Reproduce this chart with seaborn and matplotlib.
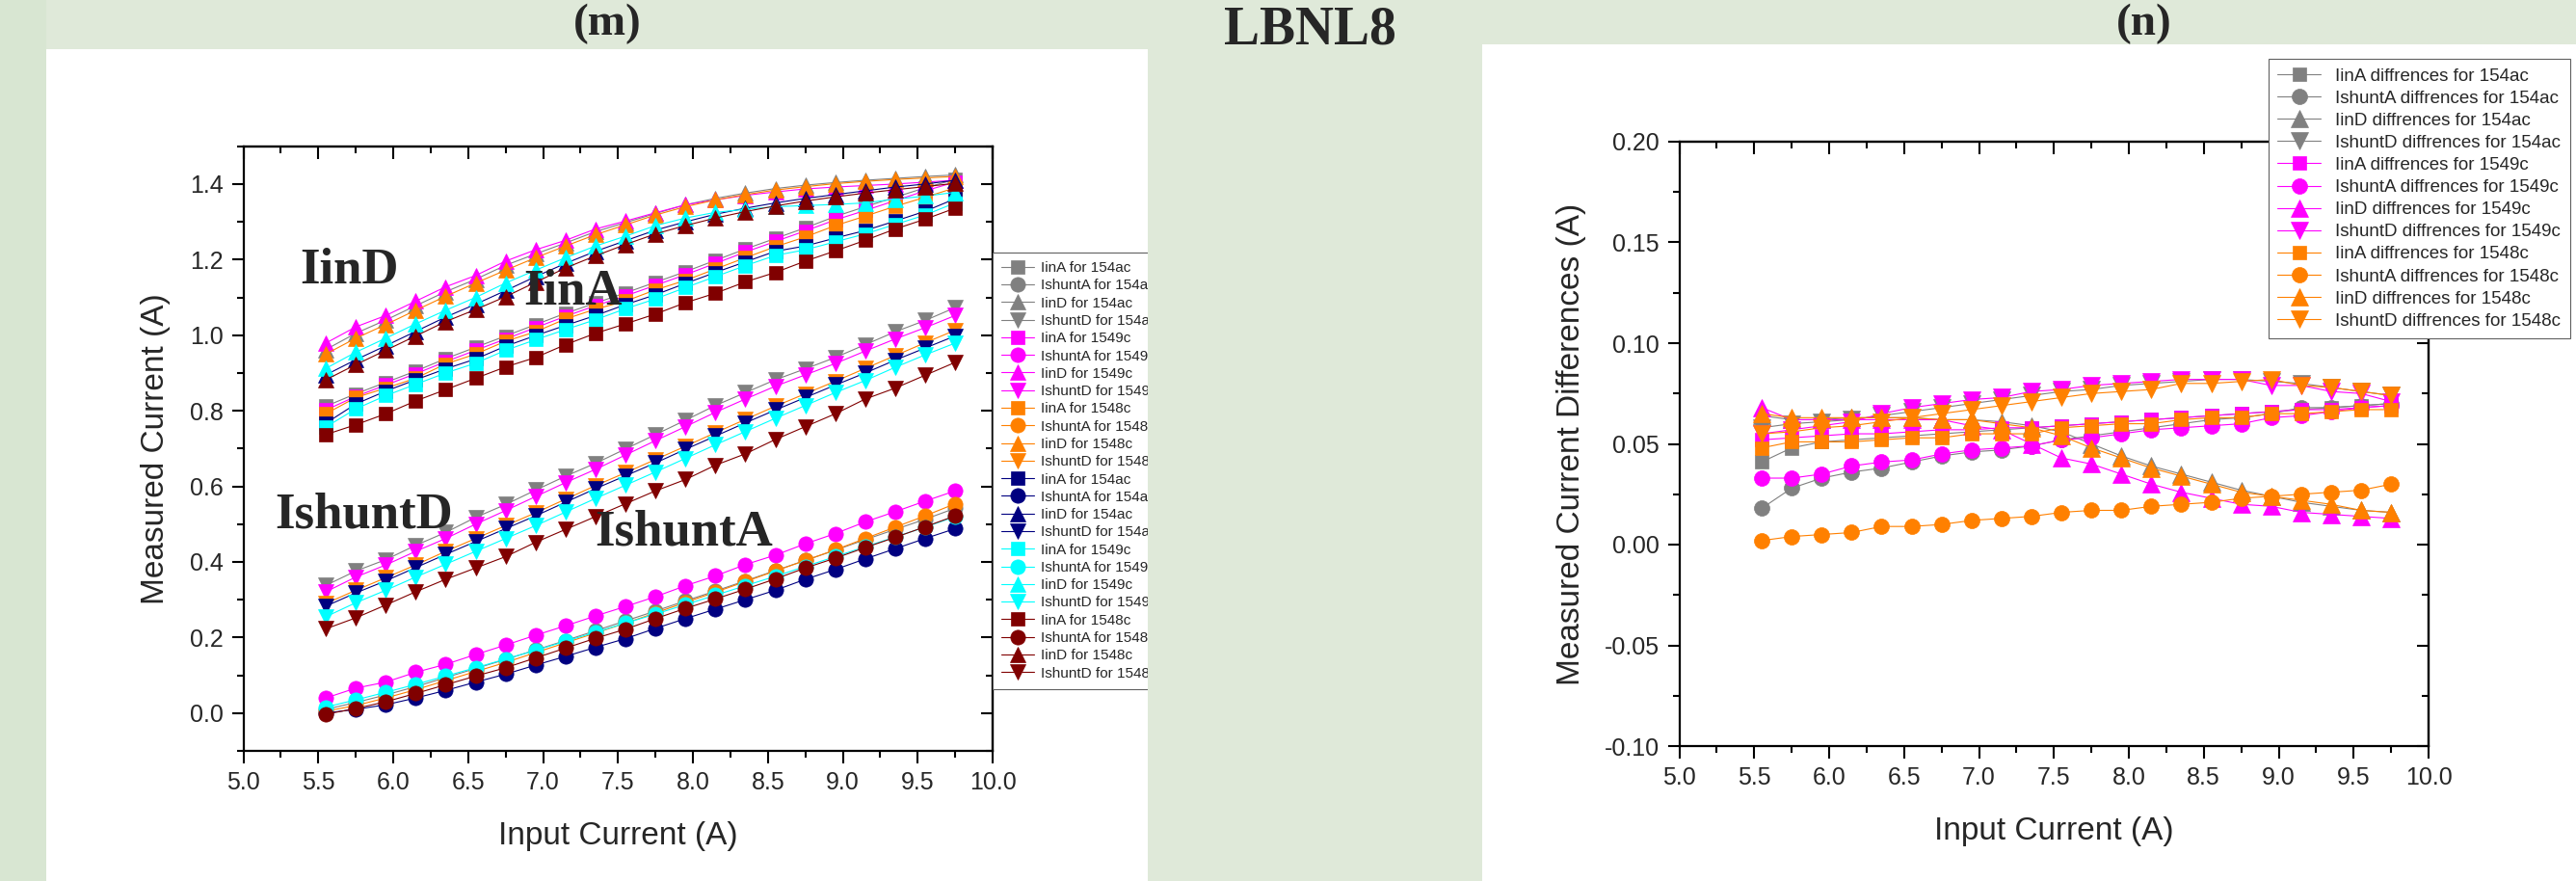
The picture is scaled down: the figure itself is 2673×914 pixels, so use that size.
import matplotlib
matplotlib.use("Agg")
import matplotlib.pyplot as plt
import seaborn as sns
from matplotlib.patches import Rectangle
from matplotlib.ticker import MultipleLocator, FormatStrFormatter, NullFormatter

# input current (A), same for every series
x_current = [5.55, 5.75, 5.95, 6.15, 6.35, 6.55, 6.75, 6.95, 7.15, 7.35, 7.55,
             7.75, 7.95, 8.15, 8.35, 8.55, 8.75, 8.95, 9.15, 9.35, 9.55, 9.75]

# ---- panel (m): measured currents ----
iinA_154ac = [0.812, 0.845, 0.875, 0.905, 0.938, 0.968, 0.998, 1.028, 1.058, 1.085, 1.112,
              1.140, 1.168, 1.198, 1.228, 1.256, 1.284, 1.314, 1.340, 1.365, 1.390, 1.412]
ishuntA_154ac = [0.010, 0.028, 0.048, 0.070, 0.094, 0.118, 0.142, 0.167, 0.192, 0.218, 0.244,
                 0.270, 0.297, 0.323, 0.350, 0.377, 0.404, 0.431, 0.459, 0.486, 0.513, 0.542]
iinD_154ac = [0.962, 1.005, 1.040, 1.078, 1.115, 1.148, 1.185, 1.215, 1.244, 1.274, 1.298,
              1.322, 1.345, 1.362, 1.376, 1.388, 1.397, 1.404, 1.410, 1.415, 1.420, 1.424]
ishuntD_154ac = [0.338, 0.376, 0.406, 0.444, 0.478, 0.518, 0.552, 0.590, 0.627, 0.661, 0.699,
                 0.737, 0.775, 0.814, 0.848, 0.882, 0.911, 0.941, 0.975, 1.009, 1.039, 1.073]

iinA_1549c = [0.802, 0.838, 0.868, 0.898, 0.930, 0.960, 0.990, 1.020, 1.050, 1.078, 1.104,
              1.132, 1.160, 1.190, 1.220, 1.248, 1.276, 1.305, 1.330, 1.356, 1.382, 1.405]
ishuntA_1549c = [0.040, 0.066, 0.082, 0.108, 0.129, 0.155, 0.180, 0.206, 0.231, 0.257, 0.282,
                 0.308, 0.337, 0.363, 0.393, 0.418, 0.448, 0.475, 0.506, 0.533, 0.561, 0.588]
iinD_1549c = [0.979, 1.022, 1.052, 1.090, 1.128, 1.158, 1.196, 1.226, 1.251, 1.281, 1.302,
              1.324, 1.345, 1.358, 1.370, 1.379, 1.387, 1.392, 1.396, 1.400, 1.405, 1.410]
ishuntD_1549c = [0.321, 0.360, 0.392, 0.428, 0.462, 0.500, 0.536, 0.573, 0.610, 0.645, 0.683,
                 0.721, 0.758, 0.796, 0.831, 0.865, 0.895, 0.925, 0.958, 0.990, 1.020, 1.052]

iinA_1548c = [0.792, 0.835, 0.860, 0.886, 0.924, 0.950, 0.984, 1.009, 1.043, 1.069, 1.090,
              1.120, 1.145, 1.175, 1.205, 1.234, 1.260, 1.290, 1.315, 1.341, 1.365, 1.390]
ishuntA_1548c = [0.005, 0.020, 0.040, 0.062, 0.086, 0.110, 0.134, 0.160, 0.186, 0.212, 0.238,
                 0.265, 0.293, 0.320, 0.348, 0.376, 0.404, 0.432, 0.462, 0.492, 0.522, 0.554]
iinD_1548c = [0.950, 0.992, 1.028, 1.066, 1.103, 1.138, 1.172, 1.205, 1.236, 1.266, 1.292,
              1.318, 1.340, 1.358, 1.372, 1.384, 1.393, 1.401, 1.407, 1.412, 1.416, 1.420]
ishuntD_1548c = [0.290, 0.325, 0.358, 0.392, 0.428, 0.462, 0.496, 0.530, 0.566, 0.602, 0.636,
                 0.671, 0.706, 0.742, 0.777, 0.812, 0.845, 0.878, 0.912, 0.946, 0.980, 1.013]

iinA_154ac_b = [0.767, 0.818, 0.852, 0.882, 0.911, 0.937, 0.971, 0.999, 1.026, 1.052, 1.081,
                1.107, 1.137, 1.166, 1.194, 1.222, 1.236, 1.257, 1.277, 1.302, 1.328, 1.361]
ishuntA_154ac_b = [0.000, 0.010, 0.022, 0.040, 0.060, 0.082, 0.103, 0.127, 0.150, 0.174, 0.197,
                   0.224, 0.250, 0.275, 0.300, 0.325, 0.354, 0.380, 0.408, 0.435, 0.462, 0.488]
iinD_154ac_b = [0.895, 0.935, 0.972, 1.010, 1.048, 1.082, 1.118, 1.155, 1.190, 1.222, 1.250,
                1.278, 1.300, 1.320, 1.336, 1.350, 1.362, 1.372, 1.382, 1.392, 1.400, 1.410]
ishuntD_154ac_b = [0.283, 0.318, 0.350, 0.385, 0.420, 0.454, 0.488, 0.522, 0.558, 0.594, 0.628,
                   0.662, 0.698, 0.733, 0.768, 0.802, 0.835, 0.868, 0.900, 0.934, 0.966, 0.998]

iinA_1549c_b = [0.757, 0.805, 0.840, 0.870, 0.900, 0.926, 0.960, 0.988, 1.015, 1.041, 1.070,
                1.096, 1.126, 1.155, 1.184, 1.211, 1.226, 1.247, 1.268, 1.293, 1.318, 1.350]
ishuntA_1549c_b = [0.016, 0.035, 0.055, 0.076, 0.098, 0.120, 0.143, 0.166, 0.190, 0.214, 0.238,
                   0.262, 0.287, 0.312, 0.337, 0.362, 0.388, 0.414, 0.440, 0.466, 0.492, 0.520]
iinD_1549c_b = [0.912, 0.955, 0.992, 1.030, 1.066, 1.100, 1.138, 1.172, 1.205, 1.236, 1.262,
                1.290, 1.310, 1.325, 1.333, 1.340, 1.343, 1.346, 1.350, 1.360, 1.368, 1.378]
ishuntD_1549c_b = [0.255, 0.292, 0.325, 0.360, 0.394, 0.428, 0.462, 0.496, 0.532, 0.568, 0.603,
                   0.638, 0.674, 0.710, 0.745, 0.780, 0.814, 0.848, 0.880, 0.915, 0.948, 0.979]

iinA_1548c_b = [0.737, 0.763, 0.792, 0.826, 0.856, 0.886, 0.916, 0.941, 0.975, 1.005, 1.030,
                1.056, 1.086, 1.111, 1.141, 1.166, 1.196, 1.223, 1.251, 1.281, 1.307, 1.336]
ishuntA_1548c_b = [-0.003, 0.012, 0.030, 0.052, 0.075, 0.098, 0.120, 0.146, 0.172, 0.198, 0.222,
                   0.250, 0.277, 0.302, 0.328, 0.355, 0.384, 0.410, 0.438, 0.465, 0.493, 0.522]
iinD_1548c_b = [0.882, 0.922, 0.960, 0.998, 1.036, 1.068, 1.102, 1.140, 1.178, 1.210, 1.240,
                1.268, 1.290, 1.310, 1.327, 1.342, 1.355, 1.366, 1.376, 1.385, 1.393, 1.402]
ishuntD_1548c_b = [0.223, 0.252, 0.286, 0.321, 0.354, 0.384, 0.414, 0.452, 0.486, 0.520, 0.554,
                   0.588, 0.618, 0.656, 0.686, 0.724, 0.758, 0.792, 0.831, 0.860, 0.894, 0.928]

# ---- panel (n): current differences ----
d_iinA_154ac = [0.041, 0.048, 0.051, 0.052, 0.053, 0.054, 0.055, 0.056, 0.057, 0.058, 0.059,
                0.060, 0.061, 0.062, 0.063, 0.064, 0.065, 0.066, 0.067, 0.068, 0.069, 0.070]
d_ishuntA_154ac = [0.018, 0.028, 0.033, 0.036, 0.038, 0.041, 0.044, 0.046, 0.047, 0.049, 0.052,
                   0.054, 0.056, 0.058, 0.060, 0.062, 0.063, 0.065, 0.068, 0.068, 0.069, 0.070]
d_iinD_154ac = [0.064, 0.062, 0.062, 0.063, 0.063, 0.063, 0.062, 0.062, 0.061, 0.059, 0.056,
                0.050, 0.044, 0.039, 0.035, 0.031, 0.027, 0.024, 0.021, 0.019, 0.017, 0.016]
d_ishuntD_154ac = [0.058, 0.060, 0.061, 0.062, 0.064, 0.066, 0.068, 0.070, 0.072, 0.074, 0.076,
                   0.077, 0.079, 0.080, 0.081, 0.082, 0.082, 0.081, 0.080, 0.078, 0.076, 0.074]

d_iinA_1549c = [0.052, 0.053, 0.054, 0.055, 0.055, 0.056, 0.057, 0.057, 0.058, 0.058, 0.059,
                0.060, 0.061, 0.062, 0.063, 0.064, 0.065, 0.066, 0.067, 0.067, 0.068, 0.069]
d_ishuntA_1549c = [0.033, 0.033, 0.035, 0.039, 0.041, 0.042, 0.045, 0.047, 0.048, 0.049, 0.052,
                   0.053, 0.055, 0.057, 0.058, 0.059, 0.060, 0.063, 0.064, 0.066, 0.068, 0.069]
d_iinD_1549c = [0.068, 0.062, 0.062, 0.062, 0.062, 0.062, 0.062, 0.059, 0.057, 0.050, 0.043,
                0.040, 0.035, 0.030, 0.026, 0.023, 0.020, 0.019, 0.016, 0.015, 0.014, 0.013]
d_ishuntD_1549c = [0.055, 0.057, 0.059, 0.061, 0.065, 0.068, 0.070, 0.072, 0.073, 0.076, 0.077,
                   0.079, 0.080, 0.081, 0.082, 0.082, 0.082, 0.079, 0.079, 0.076, 0.075, 0.071]

d_iinA_1548c = [0.048, 0.051, 0.051, 0.051, 0.052, 0.053, 0.053, 0.055, 0.055, 0.055, 0.058,
                0.059, 0.060, 0.060, 0.062, 0.063, 0.063, 0.065, 0.065, 0.066, 0.067, 0.067]
d_ishuntA_1548c = [0.002, 0.004, 0.005, 0.006, 0.009, 0.009, 0.010, 0.012, 0.013, 0.014, 0.016,
                   0.017, 0.017, 0.019, 0.020, 0.021, 0.023, 0.024, 0.025, 0.026, 0.027, 0.030]
d_iinD_1548c = [0.065, 0.063, 0.063, 0.063, 0.063, 0.063, 0.062, 0.062, 0.060, 0.058, 0.054,
                0.048, 0.043, 0.038, 0.034, 0.030, 0.026, 0.024, 0.022, 0.020, 0.017, 0.016]
d_ishuntD_1548c = [0.055, 0.056, 0.058, 0.059, 0.061, 0.063, 0.065, 0.067, 0.069, 0.071, 0.073,
                   0.075, 0.076, 0.077, 0.080, 0.080, 0.081, 0.082, 0.079, 0.078, 0.076, 0.074]

sample_colors = ["#808080", "#ff00ff", "#ff8000", "#000080", "#00ffff", "#800000"]
sample_names = ["154ac", "1549c", "1548c", "154ac", "1549c", "1548c"]
kinds = ["IinA", "IshuntA", "IinD", "IshuntD"]
kind_markers = ["s", "o", "^", "v"]
kind_sizes = [9.5, 11, 12, 12]

panel_m = [
    [iinA_154ac, ishuntA_154ac, iinD_154ac, ishuntD_154ac],
    [iinA_1549c, ishuntA_1549c, iinD_1549c, ishuntD_1549c],
    [iinA_1548c, ishuntA_1548c, iinD_1548c, ishuntD_1548c],
    [iinA_154ac_b, ishuntA_154ac_b, iinD_154ac_b, ishuntD_154ac_b],
    [iinA_1549c_b, ishuntA_1549c_b, iinD_1549c_b, ishuntD_1549c_b],
    [iinA_1548c_b, ishuntA_1548c_b, iinD_1548c_b, ishuntD_1548c_b],
]
panel_n = [
    [d_iinA_154ac, d_ishuntA_154ac, d_iinD_154ac, d_ishuntD_154ac],
    [d_iinA_1549c, d_ishuntA_1549c, d_iinD_1549c, d_ishuntD_1549c],
    [d_iinA_1548c, d_ishuntA_1548c, d_iinD_1548c, d_ishuntD_1548c],
]

W, H = 2673, 914
BG = "#dfe9d9"

sns.set_style("ticks")
plt.rcParams["font.family"] = ["Liberation Sans", "DejaVu Sans"]
plt.rcParams["axes.unicode_minus"] = False

fig = plt.figure(figsize=(W / 100, H / 100), dpi=100)
fig.patch.set_facecolor(BG)


def fx(px):
    return px / W


def fy(py):
    return 1 - py / H


# white panels behind the two charts
fig.add_artist(Rectangle((0, 0), fx(47.7), 1, transform=fig.transFigure,
                         facecolor="#d8e6d2", edgecolor="none", zorder=-2))
fig.add_artist(Rectangle((fx(47.7), 0), fx(1190.6) - fx(47.7), fy(50.7), transform=fig.transFigure,
                         facecolor="white", edgecolor="none", zorder=-1))
fig.add_artist(Rectangle((fx(1538), 0), 1 - fx(1538), fy(45.7), transform=fig.transFigure,
                         facecolor="white", edgecolor="none", zorder=-1))

ax1 = fig.add_axes([fx(252.6), fy(779), (1030 - 252.6) / W, (779 - 151.7) / H])
ax2 = fig.add_axes([fx(1742.5), fy(774), (2520 - 1742.5) / W, (774 - 147) / H])


def style_axes(ax, ylim, ymajor, yminor, yfmt):
    ax.set_facecolor("none")
    ax.set_xlim(5.0, 10.0)
    ax.set_ylim(*ylim)
    ax.xaxis.set_major_locator(MultipleLocator(0.5))
    ax.xaxis.set_minor_locator(MultipleLocator(0.25))
    ax.yaxis.set_major_locator(MultipleLocator(ymajor))
    ax.yaxis.set_minor_locator(MultipleLocator(yminor))
    ax.xaxis.set_major_formatter(FormatStrFormatter("%.1f"))
    ax.yaxis.set_major_formatter(FormatStrFormatter(yfmt))
    ax.tick_params(which="both", direction="out", width=1.5, color="black",
                   labelsize=18, top=False, right=False)
    ax.tick_params(which="major", length=9, pad=6)
    ax.tick_params(which="minor", length=5)
    for s in ax.spines.values():
        s.set_linewidth(1.6)
        s.set_color("black")
        s.set_visible(True)
    top = ax.secondary_xaxis("top")
    top.xaxis.set_major_locator(MultipleLocator(0.5))
    top.xaxis.set_minor_locator(MultipleLocator(0.25))
    top.xaxis.set_major_formatter(NullFormatter())
    top.tick_params(which="both", direction="in", width=1.5, color="black")
    top.tick_params(which="major", length=9)
    top.tick_params(which="minor", length=5)
    top.spines["top"].set_linewidth(1.6)
    right = ax.secondary_yaxis("right")
    right.yaxis.set_major_locator(MultipleLocator(ymajor))
    right.yaxis.set_minor_locator(MultipleLocator(yminor))
    right.yaxis.set_major_formatter(NullFormatter())
    right.tick_params(which="both", direction="in", width=1.5, color="black")
    right.tick_params(which="major", length=9)
    right.tick_params(which="minor", length=5)
    right.spines["right"].set_linewidth(1.6)


# panel (m)
for ci, series in enumerate(panel_m):
    for ki, vals in enumerate(series):
        c = sample_colors[ci]
        sns.lineplot(x=x_current, y=vals, ax=ax1, color=c, marker=kind_markers[ki],
                     markersize=kind_sizes[ki], markeredgecolor=c, markeredgewidth=0.5,
                     linewidth=0.8, label=f"{kinds[ki]} for {sample_names[ci]}")

style_axes(ax1, (-0.1, 1.5), 0.2, 0.1, "%.1f")
ax1.set_xlabel("Input Current (A)", fontsize=24, labelpad=20)
ax1.set_ylabel("Measured Current (A)", fontsize=24, labelpad=14)

serif = dict(family=["Liberation Serif", "DejaVu Serif"], fontweight="bold", fontsize=38,
             ha="center", va="baseline", zorder=4)
ax1.text(5.708, 1.137, "IinD", **serif)
ax1.text(7.198, 1.081, "IinA", **serif)
ax1.text(5.804, 0.490, "IshuntD", **serif)
ax1.text(7.942, 0.444, "IshuntA", **serif)

leg1 = ax1.legend(loc="upper left", bbox_to_anchor=(fx(1030), fy(262)), bbox_transform=fig.transFigure,
                  fontsize=11, frameon=True, fancybox=False, edgecolor="#606060", framealpha=1,
                  borderaxespad=0, labelspacing=0.28, handlelength=2.2, handletextpad=0.5,
                  borderpad=0.6)
leg1.get_frame().set_linewidth(0.8)

# panel (n)
for ci, series in enumerate(panel_n):
    for ki, vals in enumerate(series):
        c = sample_colors[ci]
        sns.lineplot(x=x_current, y=vals, ax=ax2, color=c, marker=kind_markers[ki],
                     markersize=kind_sizes[ki] + 0.5, markeredgecolor=c, markeredgewidth=0.5,
                     linewidth=0.8, label=f"{kinds[ki]} diffrences for {sample_names[ci]}")

style_axes(ax2, (-0.10, 0.20), 0.05, 0.025, "%.2f")
ax2.set_xlabel("Input Current (A)", fontsize=24, labelpad=20)
ax2.set_ylabel("Measured Current Differences (A)", fontsize=24, labelpad=13)

leg2 = ax2.legend(loc="upper left", bbox_to_anchor=(fx(2354), fy(61)), bbox_transform=fig.transFigure,
                  fontsize=13.5, frameon=True, fancybox=False, edgecolor="#606060", framealpha=1,
                  borderaxespad=0, labelspacing=0.32, handlelength=2.4, handletextpad=0.8,
                  borderpad=0.5)
leg2.get_frame().set_linewidth(0.8)

# green gap between the panels hides the cut-off part of the left legend
fig.add_artist(Rectangle((fx(1190.6), 0), fx(1538) - fx(1190.6), fy(150), transform=fig.transFigure,
                         facecolor=BG, edgecolor="none", zorder=10))

title_kw = dict(family=["Liberation Serif", "DejaVu Serif"], fontweight="bold",
                ha="center", va="baseline")
fig.text(fx(630), fy(36), "(m)", fontsize=34, **title_kw)
fig.text(fx(1359), fy(46), "LBNL8", fontsize=40, **title_kw)
fig.text(fx(2225), fy(36), "(n)", fontsize=34, **title_kw)

fig.savefig("out.png", dpi=100, facecolor=fig.get_facecolor())
